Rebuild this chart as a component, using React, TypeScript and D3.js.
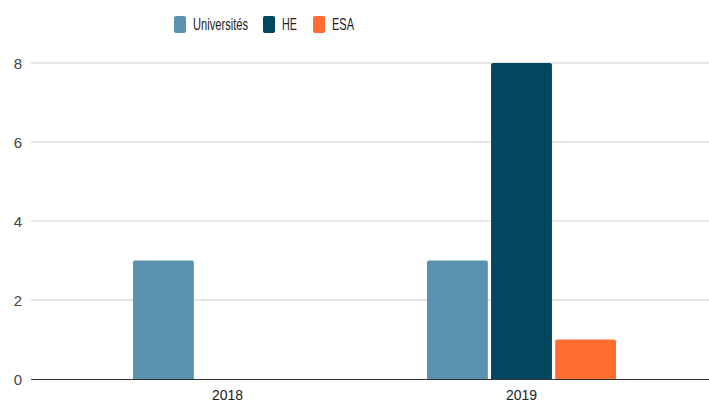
import React, { useEffect, useRef } from 'react';
import * as d3 from 'd3';

const years = ['2018', '2019'];
const seriesNames = ['Universités', 'HE', 'ESA'];
const seriesColors = ['#5a92b0', '#02465f', '#ff6d31'];
const universites = [3, 3];
const he = [0, 8];
const esa = [0, 1];
const yTicks = [0, 2, 4, 6, 8];

const width = 709;
const height = 403;

const App: React.FC = () => {
  const svgRef = useRef<SVGSVGElement | null>(null);

  useEffect(() => {
    if (!svgRef.current) return;
    const svg = d3.select(svgRef.current);
    svg.selectAll('*').remove();

    const font = '"Liberation Sans", Arial, sans-serif';
    const plotLeft = 31;
    const plotRight = 709;

    const values = [universites, he, esa];
    const rows = years.map((year, i) => ({
      year,
      vals: seriesNames.map((name, s) => ({ name, s, value: values[s][i] })),
    }));

    const x0 = d3.scaleBand<string>()
      .domain(years)
      .range([80.5, 668.5])
      .paddingInner(0.357)
      .paddingOuter(0.1785);

    const x1 = d3.scaleBand<string>()
      .domain(seriesNames)
      .range([0, x0.bandwidth()])
      .paddingInner(0.05);

    const y = d3.scaleLinear().domain([0, 8]).range([379, 63]);

    // gridlines
    svg.append('g')
      .selectAll('line')
      .data(yTicks.filter(t => t !== 0))
      .enter().append('line')
        .attr('x1', plotLeft)
        .attr('x2', plotRight)
        .attr('y1', d => y(d))
        .attr('y2', d => y(d))
        .attr('stroke', '#cccccc')
        .attr('stroke-width', 1);

    // y labels
    svg.append('g')
      .selectAll('text')
      .data(yTicks)
      .enter().append('text')
        .attr('x', 22)
        .attr('y', d => y(d) + 5.5)
        .attr('text-anchor', 'end')
        .style('font-family', font)
        .style('font-size', '15px')
        .attr('fill', '#444')
        .text(d => d);

    // bars with rounded tops
    const r = 2;
    const barPath = (bx: number, by: number, bw: number, bh: number) => {
      if (bh <= 0) return '';
      const rr = Math.min(r, bh);
      return `M${bx},${by + bh}V${by + rr}Q${bx},${by} ${bx + rr},${by}H${bx + bw - rr}Q${bx + bw},${by} ${bx + bw},${by + rr}V${by + bh}Z`;
    };

    const groups = svg.append('g')
      .selectAll('g')
      .data(rows)
      .enter().append('g')
        .attr('transform', d => `translate(${x0(d.year)},0)`);

    groups.selectAll('path')
      .data(d => d.vals.filter(v => v.value > 0))
      .enter().append('path')
        .attr('d', v => barPath(x1(v.name) || 0, y(v.value), x1.bandwidth(), y(0) - y(v.value)))
        .attr('fill', v => seriesColors[v.s]);

    // baseline
    svg.append('line')
      .attr('x1', plotLeft)
      .attr('x2', plotRight)
      .attr('y1', y(0) + 0.5)
      .attr('y2', y(0) + 0.5)
      .attr('stroke', '#333')
      .attr('stroke-width', 1);

    // x labels
    svg.append('g')
      .selectAll('text')
      .data(years)
      .enter().append('text')
        .attr('x', d => (x0(d) || 0) + x0.bandwidth() / 2)
        .attr('y', 400)
        .attr('text-anchor', 'middle')
        .style('font-family', font)
        .style('font-size', '14px')
        .attr('fill', '#222')
        .text(d => d);

    // legend
    const legendX = [174, 263, 313];
    const legendTextW = [55, 15, 22];
    const legend = svg.append('g')
      .selectAll('g')
      .data(seriesNames)
      .enter().append('g')
        .attr('transform', (d, i) => `translate(${legendX[i]},16)`);

    legend.append('rect')
      .attr('width', 12)
      .attr('height', 17)
      .attr('rx', 2)
      .attr('fill', (d, i) => seriesColors[i]);

    legend.append('text')
      .attr('x', 19)
      .attr('y', 14)
      .attr('textLength', (d, i) => legendTextW[i])
      .attr('lengthAdjust', 'spacingAndGlyphs')
      .style('font-family', font)
      .style('font-size', '16.5px')
      .attr('fill', '#222')
      .text(d => d);
  }, []);

  return (
    <div style={{ position: 'absolute', left: 0, top: 0, background: '#fff' }}>
      <svg ref={svgRef} width={width} height={height} style={{ display: 'block' }}></svg>
    </div>
  );
};

export default App;
